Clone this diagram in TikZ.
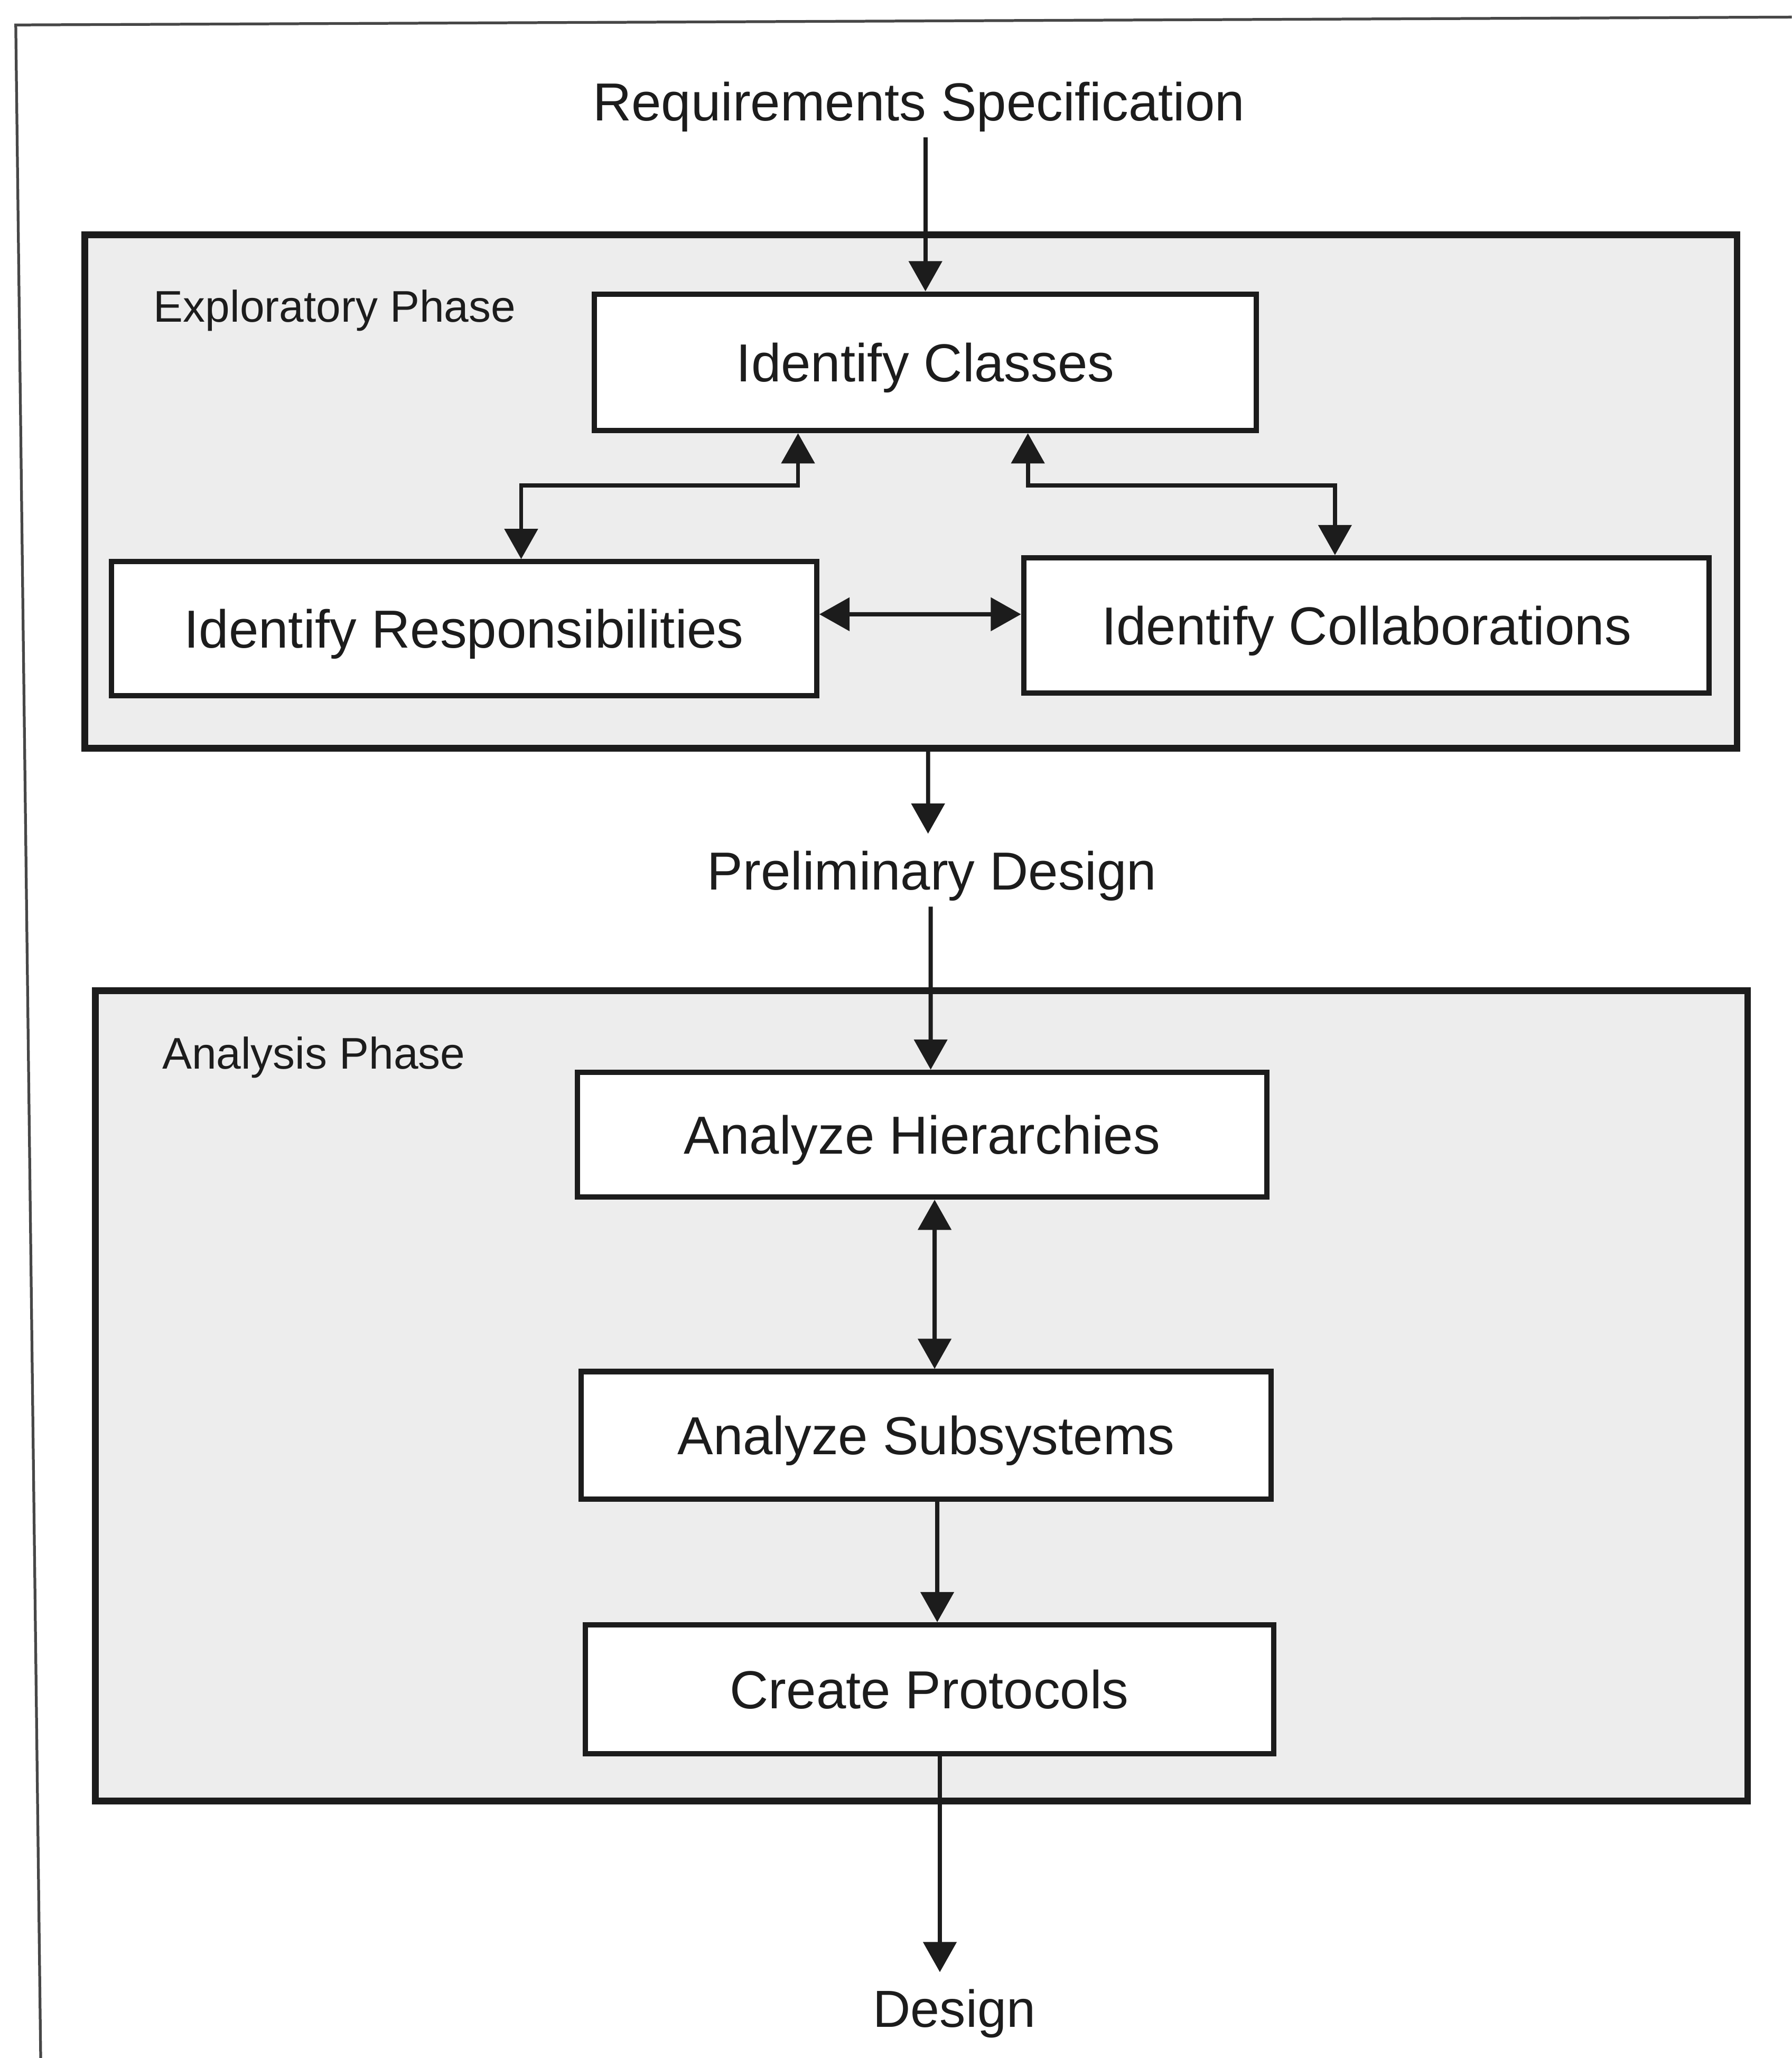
\documentclass[tikz,border=0pt]{standalone}
\usepackage{fontspec}
\setmainfont{Liberation Sans}
\usetikzlibrary{arrows.meta}
\definecolor{phasefill}{RGB}{237,237,237}
\definecolor{ink}{RGB}{28,28,28}
\begin{document}
\begin{tikzpicture}[x=0.01cm, y=-0.01cm,
  phase/.style={draw=ink, line width=1.4pt, fill=phasefill, inner sep=0pt},
  task/.style={draw=ink, line width=1.15pt, fill=white, inner sep=0pt, text=ink,
    text depth=0pt, font=\fontsize{11.6pt}{14pt}\selectfont},
  io/.style={inner xsep=2pt, inner ysep=3.5pt, text=ink, text depth=0pt,
    font=\fontsize{11.6pt}{14pt}\selectfont},
  tag/.style={inner sep=0pt, text=ink, text depth=0pt, font=\fontsize{9.6pt}{12pt}\selectfont},
  flow/.style={draw=ink, line width=0.9pt, -{Triangle[length=0.23cm, width=0.25cm]}},
  flowboth/.style={draw=ink, line width=0.9pt,
    {Triangle[length=0.23cm, width=0.25cm]}-{Triangle[length=0.23cm, width=0.25cm]}}]

% page
\fill[white] (0,0) rectangle (1365,1568);
\useasboundingbox (0,0) rectangle (1365,1568);

% surrounding frame (top and left edges)
\draw[black!72, line width=0.6pt] (31,1568) -- (12,19) -- (1365,13);

% phases
\node[phase, minimum width=12.58cm, minimum height=3.91cm] (expl) at (694,374.5) {};
\node[phase, minimum width=12.58cm, minimum height=6.17cm] (anal) at (702,1063.5) {};
\node[tag] (expltag) at (255,233) {Exploratory Phase};
\node[tag] (analtag) at (239,802) {Analysis Phase};

% inputs and outputs
\node[io] (req) at (700,77) {Requirements Specification};
\node[io] (prelim) at (710,663) {Preliminary Design};
\node[io, font=\fontsize{11.3pt}{14pt}\selectfont] (design) at (727,1530) {Design};

% exploratory tasks
\node[task, minimum width=5.04cm, minimum height=1.04cm] (cls) at (705,276) {Identify Classes};
\node[task, minimum width=5.37cm, minimum height=1.02cm] (resp) at (353.5,479) {Identify Responsibilities};
\node[task, minimum width=5.22cm, minimum height=1.03cm] (coll) at (1041,476.5) {Identify Collaborations};

% analysis tasks
\node[task, minimum width=5.25cm, minimum height=0.95cm] (hier) at (702.5,864.5) {Analyze Hierarchies};
\node[task, minimum width=5.25cm, minimum height=0.97cm] (subs) at (705.5,1093.5) {Analyze Subsystems};
\node[task, minimum width=5.24cm, minimum height=0.98cm] (prot) at (708,1287) {Create Protocols};

% connectors
\draw[flow] (req.south -| cls.north) -- (cls.north);
\draw[flowboth] ([xshift=0.435cm]resp.north) -- ++(0,-56) -| ([xshift=-0.97cm]cls.south);
\draw[flowboth] ([xshift=-0.24cm]coll.north) -- ++(0,-53) -| ([xshift=0.78cm]cls.south);
\draw[flowboth] ([yshift=0.11cm]resp.east) -- ([yshift=0.085cm]coll.west);
\draw[flow] ([xshift=0.13cm]expl.south) -- ([xshift=-0.03cm]prelim.north);
\draw[flow] ([xshift=-0.01cm]prelim.south) -- ([xshift=0.065cm]hier.north);
\draw[flowboth] ([xshift=0.095cm]hier.south) -- ([xshift=0.065cm]subs.north);
\draw[flow] ([xshift=0.085cm]subs.south) -- ([xshift=0.06cm]prot.north);
\draw[flow] ([xshift=0.08cm]prot.south) -- ([xshift=-0.11cm]design.north);
\end{tikzpicture}
\end{document}
